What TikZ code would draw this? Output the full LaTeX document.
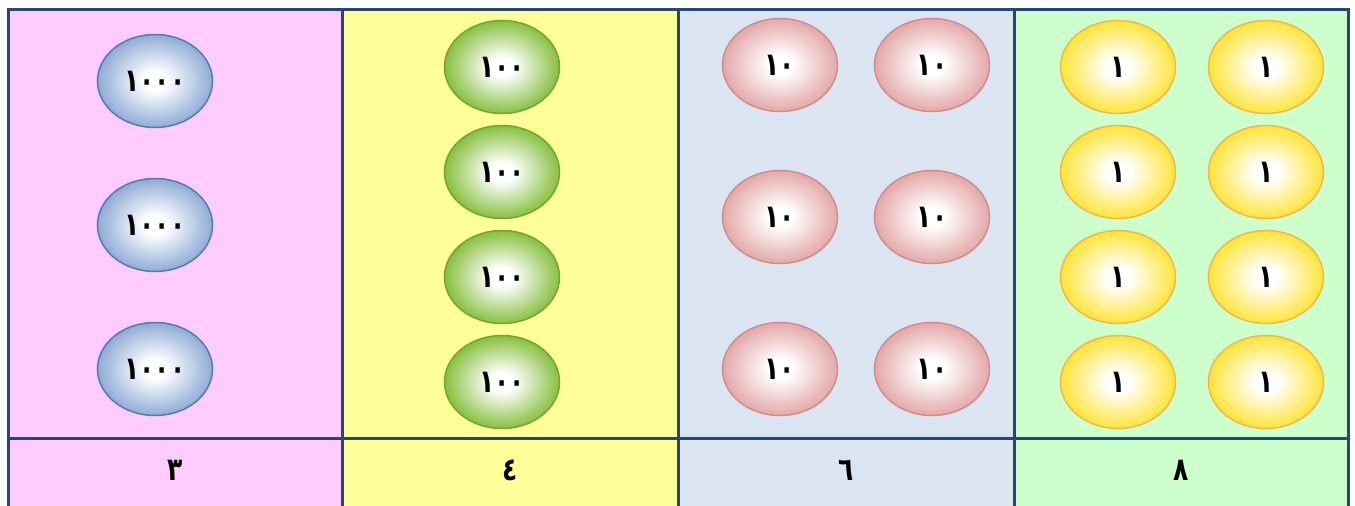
\documentclass[tikz,border=0pt]{standalone}
\usepackage{fontspec}
\usetikzlibrary{shapes.geometric}
\newfontfamily\arabicfont[Script=Arabic,FakeStretch=0.78]{DejaVu Sans}
\definecolor{bgpink}{HTML}{FFCCFF}
\definecolor{bgyellow}{HTML}{FFFF99}
\definecolor{bgblue}{HTML}{DBE5F1}
\definecolor{bggreen}{HTML}{CCFFCC}
\definecolor{gridline}{HTML}{264775}
\definecolor{blueO}{HTML}{8FACD6}
\definecolor{blueB}{HTML}{5479B0}
\definecolor{greenO}{HTML}{88C040}
\definecolor{greenB}{HTML}{72A436}
\definecolor{pinkO}{HTML}{E3A8A8}
\definecolor{pinkB}{HTML}{CF8C8C}
\definecolor{yelO}{HTML}{FFE43A}
\definecolor{yelB}{HTML}{F4B54C}
\pgfdeclareradialshading{coinblue}{\pgfpoint{0bp}{0bp}}{color(0bp)=(white); color(5bp)=(white); color(25bp)=(blueO); color(50bp)=(blueO)}
\pgfdeclareradialshading{coingreen}{\pgfpoint{0bp}{0bp}}{color(0bp)=(white); color(5bp)=(white); color(25bp)=(greenO); color(50bp)=(greenO)}
\pgfdeclareradialshading{coinpink}{\pgfpoint{0bp}{0bp}}{color(0bp)=(white); color(5bp)=(white); color(25bp)=(pinkO); color(50bp)=(pinkO)}
\pgfdeclareradialshading{coinyellow}{\pgfpoint{0bp}{0bp}}{color(0bp)=(white); color(5bp)=(white); color(25bp)=(yelO); color(50bp)=(yelO)}
\tikzset{
  coin/.style={ellipse, minimum width=115pt, minimum height=93pt, line width=1.5pt, inner sep=0pt,
    font=\arabicfont\bfseries\fontsize{32}{32}\selectfont},
  coinA/.style={coin, draw=blueB, shading=coinblue},
  coinB/.style={coin, draw=greenB, shading=coingreen},
  coinC/.style={coin, draw=pinkB, shading=coinpink},
  coinD/.style={coin, draw=yelB, shading=coinyellow},
  grid/.style={draw=gridline, line width=3pt},
  countlabel/.style={font=\arabicfont\bfseries\fontsize{32}{32}\selectfont}
}
\begin{document}
\begin{tikzpicture}[x=1pt,y=-1pt]
\useasboundingbox (0,0) rectangle (1355,506);
\fill[white] (0,0) rectangle (1355,506);
\fill[bgpink] (8,9) rectangle (342,506);
\fill[bgyellow] (342,9) rectangle (678,506);
\fill[bgblue] (678,9) rectangle (1014,506);
\fill[bggreen] (1014,9) rectangle (1348,506);
% grid
\coordinate (tl) at (8,9);
\coordinate (tr) at (1348,9);
\coordinate (bl) at (8,506);
\coordinate (br) at (1348,506);
\coordinate (ml) at (8,438);
\coordinate (mr) at (1348,438);
\coordinate (c1t) at (342,9);
\coordinate (c1b) at (342,506);
\coordinate (c2t) at (678,9);
\coordinate (c2b) at (678,506);
\coordinate (c3t) at (1014,9);
\coordinate (c3b) at (1014,506);
\draw[grid] (bl) -- (tl) -- (tr) -- (br);
\draw[grid] (ml) -- (mr);
\draw[grid] (c1t) -- (c1b);
\draw[grid] (c2t) -- (c2b);
\draw[grid] (c3t) -- (c3b);
% thousands
\node[coinA] (a1) at (155,81) {١٠٠٠};
\node[coinA] (a2) at (155,225) {١٠٠٠};
\node[coinA] (a3) at (155,369) {١٠٠٠};
% hundreds
\node[coinB] (b1) at (502,67) {١٠٠};
\node[coinB] (b2) at (502,172) {١٠٠};
\node[coinB] (b3) at (502,277) {١٠٠};
\node[coinB] (b4) at (502,382) {١٠٠};
% tens
\node[coinC] (c1) at (780,65) {١٠};
\node[coinC] (c2) at (932,65) {١٠};
\node[coinC] (c3) at (780,217) {١٠};
\node[coinC] (c4) at (932,217) {١٠};
\node[coinC] (c5) at (780,369) {١٠};
\node[coinC] (c6) at (932,369) {١٠};
% ones
\node[coinD] (d1) at (1118,67) {١};
\node[coinD] (d2) at (1266,67) {١};
\node[coinD] (d3) at (1118,172) {١};
\node[coinD] (d4) at (1266,172) {١};
\node[coinD] (d5) at (1118,277) {١};
\node[coinD] (d6) at (1266,277) {١};
\node[coinD] (d7) at (1118,382) {١};
\node[coinD] (d8) at (1266,382) {١};
% counts
\node[countlabel] (n1) at (175,470) {٣};
\node[countlabel] (n2) at (510,470) {٤};
\node[countlabel] (n3) at (846,470) {٦};
\node[countlabel] (n4) at (1181,470) {٨};
\end{tikzpicture}
\end{document}
